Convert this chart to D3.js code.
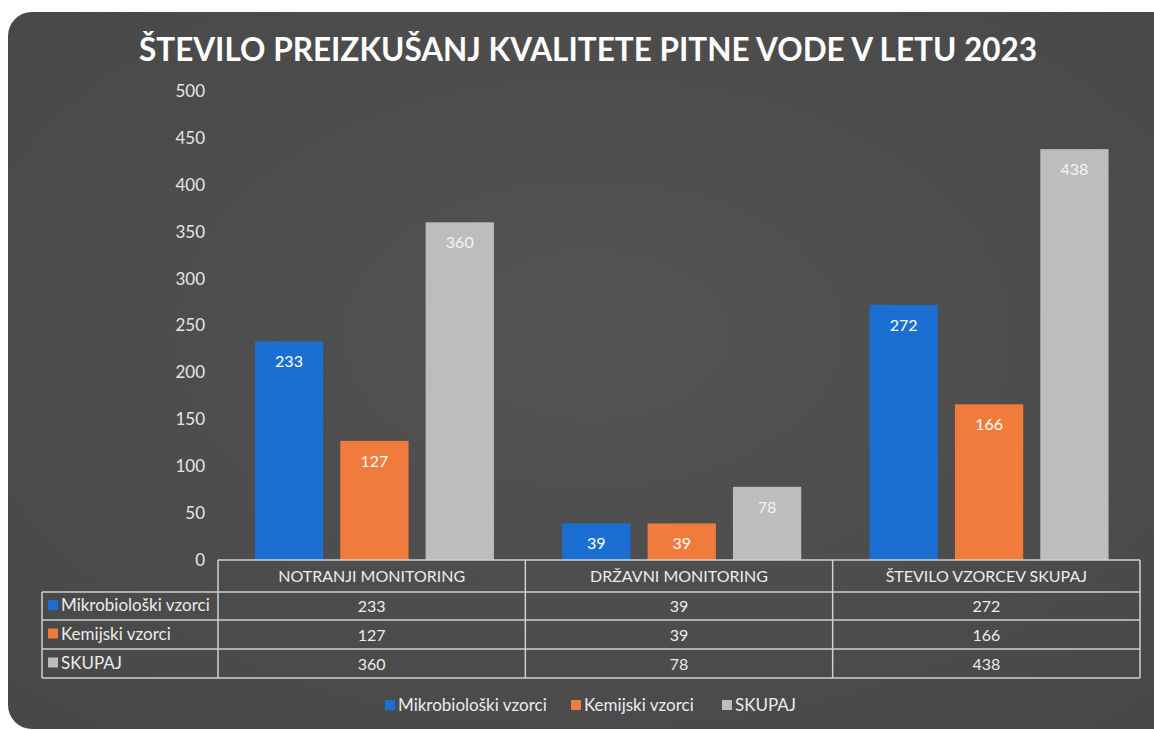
<!DOCTYPE html>
<html>
<head>
<meta charset="utf-8">
<script src="https://cdn.jsdelivr.net/npm/d3@7"></script>
<style>
  body { margin: 0; background: #fff; }
  svg text { font-family: Lato, "Open Sans", sans-serif; }
</style>
</head>
<body>
<div id="chart-area"></div>
<script>
// data
var categories = ["NOTRANJI MONITORING", "DRŽAVNI MONITORING", "ŠTEVILO VZORCEV SKUPAJ"];
var seriesNames = ["Mikrobiološki vzorci", "Kemijski vzorci", "SKUPAJ"];
var mikro = [233, 39, 272];
var kemija = [127, 39, 166];
var skupaj = [360, 78, 438];
var yTicks = [0, 50, 100, 150, 200, 250, 300, 350, 400, 450, 500];
var title = "ŠTEVILO PREIZKUŠANJ KVALITETE PITNE VODE V LETU 2023";

var colors = ["#1c6fd2", "#f07b3d", "#bdbdbd"];
var seriesValues = [mikro, kemija, skupaj];

var W = 1154, H = 730;
var plot = {left: 218, right: 1140, top: 91, bottom: 560};

var svg = d3.select("#chart-area").append("svg")
  .attr("width", W)
  .attr("height", H);

// dark card
var grad = svg.append("defs").append("radialGradient")
  .attr("id", "bg").attr("cx", "50%").attr("cy", "45%").attr("r", "70%");
grad.append("stop").attr("offset", "0%").attr("stop-color", "#535353");
grad.append("stop").attr("offset", "100%").attr("stop-color", "#484848");
svg.append("rect")
  .attr("x", 8).attr("y", 12)
  .attr("width", 1170).attr("height", 717)
  .attr("rx", 24)
  .attr("fill", "url(#bg)");

// title
svg.append("text")
  .attr("x", 588).attr("y", 61)
  .attr("text-anchor", "middle")
  .attr("font-size", "31.5px")
  .attr("font-weight", "bold")
  .attr("fill", "#ffffff")
  .text(title);

var x0 = d3.scaleBand().domain(categories).range([plot.left, plot.right]);
var x1 = d3.scaleBand().domain(seriesNames).range([0, x0.bandwidth()])
  .paddingInner(0.2).paddingOuter(0.4).align(0.54);
var y = d3.scaleLinear().domain([0, 500]).range([plot.bottom, plot.top]);

// y axis
var yAxis = d3.axisLeft(y).tickValues(yTicks).tickSize(0).tickPadding(13);
var yg = svg.append("g")
  .attr("transform", "translate(" + plot.left + ",0)")
  .call(yAxis);
yg.select(".domain").remove();
yg.selectAll("text")
  .attr("font-size", "17px")
  .attr("fill", "#e6e6e6");

// bars
var rows = [];
seriesNames.forEach(function(s, si) {
  categories.forEach(function(c, ci) {
    rows.push({series: s, si: si, cat: c, value: seriesValues[si][ci]});
  });
});

svg.selectAll("rect.bar").data(rows).enter().append("rect")
  .attr("class", "bar")
  .attr("x", function(d) { return x0(d.cat) + x1(d.series); })
  .attr("y", function(d) { return y(d.value); })
  .attr("width", x1.bandwidth())
  .attr("height", function(d) { return y(0) - y(d.value); })
  .attr("fill", function(d) { return colors[d.si]; });

svg.selectAll("text.lbl").data(rows).enter().append("text")
  .attr("class", "lbl")
  .attr("x", function(d) { return x0(d.cat) + x1(d.series) + x1.bandwidth() / 2; })
  .attr("y", function(d) { return y(d.value) + 26; })
  .attr("text-anchor", "middle")
  .attr("font-size", "16px")
  .attr("fill", function(d) { return d.si == 2 ? "#f4f4f4" : "#ffffff"; })
  .text(function(d) { return d.value; });

// data table
var tableLeft = 42;
var rowEdges = [560, 592, 620, 649, 678];
var lineColor = "#cfcfcf";
var tg = svg.append("g").attr("stroke", lineColor).attr("stroke-width", 1.5).attr("fill", "none");

tg.append("line").attr("x1", plot.left).attr("x2", plot.right).attr("y1", rowEdges[0]).attr("y2", rowEdges[0]);
for (var r = 1; r < rowEdges.length; r++) {
  tg.append("line").attr("x1", tableLeft).attr("x2", plot.right)
    .attr("y1", rowEdges[r]).attr("y2", rowEdges[r]);
}
tg.append("line").attr("x1", tableLeft).attr("x2", tableLeft)
  .attr("y1", rowEdges[1]).attr("y2", rowEdges[4]);
categories.forEach(function(c) {
  tg.append("line").attr("x1", x0(c)).attr("x2", x0(c))
    .attr("y1", rowEdges[0]).attr("y2", rowEdges[4]);
});
tg.append("line").attr("x1", plot.right).attr("x2", plot.right)
  .attr("y1", rowEdges[0]).attr("y2", rowEdges[4]);

// header texts
svg.selectAll("text.head").data(categories).enter().append("text")
  .attr("class", "head")
  .attr("x", function(d) { return x0(d) + x0.bandwidth() / 2; })
  .attr("y", 582)
  .attr("text-anchor", "middle")
  .attr("font-size", "16px")
  .attr("fill", "#ececec")
  .text(function(d) { return d; });

// row labels with keys
seriesNames.forEach(function(s, si) {
  var cy = (rowEdges[si + 1] + rowEdges[si + 2]) / 2;
  svg.append("rect")
    .attr("x", 48).attr("y", cy - 6)
    .attr("width", 10).attr("height", 10)
    .attr("fill", colors[si]);
  svg.append("text")
    .attr("x", 61).attr("y", cy + 5)
    .attr("font-size", "17px")
    .attr("fill", "#ececec")
    .text(s);
  categories.forEach(function(c, ci) {
    svg.append("text")
      .attr("x", x0(c) + x0.bandwidth() / 2)
      .attr("y", cy + 6)
      .attr("text-anchor", "middle")
      .attr("font-size", "16px")
      .attr("fill", "#ececec")
      .text(seriesValues[si][ci]);
  });
});

// legend
var legendX = [385, 571, 722];
var lg = svg.append("g");
seriesNames.forEach(function(s, si) {
  lg.append("rect")
    .attr("x", legendX[si]).attr("y", 700)
    .attr("width", 10).attr("height", 10)
    .attr("fill", colors[si]);
  lg.append("text")
    .attr("x", legendX[si] + 13).attr("y", 711)
    .attr("font-size", "17px")
    .attr("fill", "#ececec")
    .text(s);
});
</script>
</body>
</html>
